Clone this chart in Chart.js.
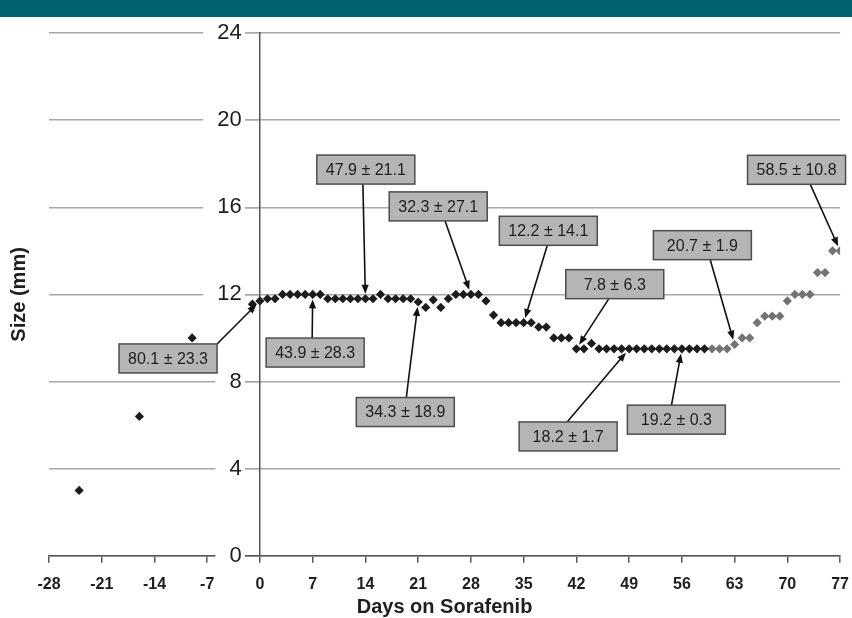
<!DOCTYPE html>
<html>
<head>
<meta charset="utf-8">
<script src="https://cdn.jsdelivr.net/npm/chart.js@4.4.0/dist/chart.umd.min.js"></script>
<style>
  html, body { margin: 0; padding: 0; background: #ffffff; overflow: hidden; }
  #wrap { position: relative; width: 852px; height: 618px; overflow: hidden; }
  #band { position: absolute; left: 0; top: 0; width: 852px; height: 17px; background: #00636f; }
  #c { position: absolute; left: 0; top: 0; }
</style>
</head>
<body>
<div id="wrap">
  <canvas id="c" width="861" height="618"></canvas>
  <div id="band"></div>
</div>
<script>
// Tumour size before sorafenib was started
const preDays = [-24, -16, -9];
const preSize = [3.0, 6.4, 10.0];

// Tumour size while on sorafenib (first period)
const onDays = [-1, 0, 1, 2, 3, 4, 5, 6, 7, 8, 9, 10, 11, 12, 13, 14, 15, 16, 17, 18, 19, 20,
  21, 22, 23, 24, 25, 26, 27, 28, 29, 30, 31, 32, 33, 34, 35, 36, 37, 38, 39, 40,
  41, 42, 43, 44, 45, 46, 47, 48, 49, 50, 51, 52, 53, 54, 55, 56, 57, 58, 59];
const onSize = [11.55, 11.7, 11.8, 11.8, 12.0, 12.0, 12.0, 12.0, 12.0, 12.0,
  11.8, 11.8, 11.8, 11.8, 11.8, 11.8, 11.8, 12.0, 11.8, 11.8, 11.8, 11.8,
  11.65, 11.4, 11.75, 11.4, 11.8, 12.0, 12.0, 12.0, 12.0, 11.7, 11.05,
  10.7, 10.7, 10.7, 10.7, 10.7, 10.5, 10.5, 10.0, 10.0, 10.0, 9.5, 9.5, 9.75,
  9.5, 9.5, 9.5, 9.5, 9.5, 9.5, 9.5, 9.5, 9.5, 9.5, 9.5, 9.5, 9.5, 9.5, 9.5];

// Tumour size during the later period
const lateDays = [60, 61, 62, 63, 64, 65, 66, 67, 68, 69, 70, 71, 72, 73, 74, 75, 76, 77];
const lateSize = [9.5, 9.5, 9.5, 9.7, 10.0, 10.0, 10.7, 11.0, 11.0, 11.0, 11.7, 12.0, 12.0, 12.0,
  13.0, 13.0, 14.0, 14.0];

// Axis ticks
const dayTicks = [-28, -21, -14, -7, 0, 7, 14, 21, 28, 35, 42, 49, 56, 63, 70, 77];
const sizeTicks = [0, 4, 8, 12, 16, 20, 24];

// Weekly callouts: label text and the day each arrow points to
const noteText = ['80.1 \u00b1 23.3', '43.9 \u00b1 28.3', '47.9 \u00b1 21.1', '34.3 \u00b1 18.9',
  '32.3 \u00b1 27.1', '12.2 \u00b1 14.1', '7.8 \u00b1 6.3', '18.2 \u00b1 1.7', '19.2 \u00b1 0.3',
  '20.7 \u00b1 1.9', '58.5 \u00b1 10.8'];
const noteDay = [0, 7, 14, 21, 28, 35, 42, 49, 56, 63, 77];

// Where each callout box sits (centre, in day / mm units) and which point of
// its outline the arrow leaves from (fraction of width, fraction of height)
const notePlace = [
  { day: -12.2, mm: 9.06,  fx: 1.00, fy: 0 },
  { day: 7.32,  mm: 9.33,  fx: 0.47, fy: 0 },
  { day: 14.05, mm: 17.73, fx: 0.47, fy: 1 },
  { day: 19.29, mm: 6.60,  fx: 0.51, fy: 0 },
  { day: 23.66, mm: 16.04, fx: 0.57, fy: 1 },
  { day: 38.27, mm: 14.92, fx: 0.49, fy: 1 },
  { day: 47.09, mm: 12.47, fx: 0.44, fy: 1 },
  { day: 40.90, mm: 5.48,  fx: 0.49, fy: 0 },
  { day: 55.27, mm: 6.25,  fx: 0.45, fy: 0 },
  { day: 58.72, mm: 14.26, fx: 0.58, fy: 1 },
  { day: 71.22, mm: 17.72, fx: 0.64, fy: 1 }
];

const toXY = (xs, ys) => xs.map((d, i) => ({ x: d, y: ys[i] }));

function sizeOnDay(d) {
  let i = onDays.indexOf(d);
  if (i >= 0) return onSize[i];
  i = lateDays.indexOf(d);
  if (i >= 0) return lateSize[i];
  return null;
}

// Callout boxes with arrows, drawn over the points
const calloutPlugin = {
  id: 'callouts',
  afterDatasetsDraw(chart) {
    const ctx = chart.ctx;
    const xs = chart.scales.x, ys = chart.scales.y;
    const W = 98, H = 29;
    ctx.save();
    noteText.forEach((txt, i) => {
      const p = notePlace[i];
      const cx = xs.getPixelForValue(p.day), cy = ys.getPixelForValue(p.mm);
      const bx = cx - W / 2, by = cy - H / 2;
      const sx = bx + p.fx * W, sy = by + p.fy * H;
      const tx0 = xs.getPixelForValue(noteDay[i]), ty0 = ys.getPixelForValue(sizeOnDay(noteDay[i]));
      const dx = tx0 - sx, dy = ty0 - sy;
      const len = Math.hypot(dx, dy);
      const ux = dx / len, uy = dy / len;
      const tx = tx0 - ux * 5, ty = ty0 - uy * 5;
      // shaft
      ctx.strokeStyle = '#111111';
      ctx.lineWidth = 1.6;
      ctx.beginPath();
      ctx.moveTo(sx, sy);
      ctx.lineTo(tx - ux * 6, ty - uy * 6);
      ctx.stroke();
      // head
      ctx.fillStyle = '#111111';
      ctx.beginPath();
      ctx.moveTo(tx, ty);
      ctx.lineTo(tx - ux * 9 - uy * 3.6, ty - uy * 9 + ux * 3.6);
      ctx.lineTo(tx - ux * 9 + uy * 3.6, ty - uy * 9 - ux * 3.6);
      ctx.closePath();
      ctx.fill();
      // box
      ctx.fillStyle = '#b5b5b5';
      ctx.fillRect(bx, by, W, H);
      ctx.strokeStyle = '#4d4d4d';
      ctx.lineWidth = 1.5;
      ctx.strokeRect(bx, by, W, H);
      ctx.fillStyle = '#1e1e1e';
      ctx.font = '16px Arial, "Liberation Sans", sans-serif';
      ctx.textAlign = 'center';
      ctx.textBaseline = 'middle';
      ctx.fillText(txt, cx, cy + 1);
    });
    ctx.restore();
  }
};

// Axis titles: vertical one at the far left, horizontal one under the day labels
const axisTitlePlugin = {
  id: 'axisTitles',
  afterDraw(chart) {
    const ctx = chart.ctx, a = chart.chartArea;
    ctx.save();
    ctx.font = 'bold 20px Arial, "Liberation Sans", sans-serif';
    ctx.fillStyle = '#1e1e1e';
    ctx.textAlign = 'center';
    ctx.textBaseline = 'middle';
    ctx.fillText('Days on Sorafenib', (a.left + a.right) / 2, a.bottom + 52);
    ctx.translate(19, (a.top + a.bottom) / 2);
    ctx.rotate(-Math.PI / 2);
    ctx.fillText('Size (mm)', 0, 0);
    ctx.restore();
  }
};

new Chart(document.getElementById('c'), {
  type: 'scatter',
  data: {
    datasets: [
      { data: toXY(preDays, preSize), backgroundColor: '#1c1c1c', borderColor: '#1c1c1c' },
      { data: toXY(onDays, onSize), backgroundColor: '#1c1c1c', borderColor: '#1c1c1c' },
      { data: toXY(lateDays, lateSize), backgroundColor: '#737373', borderColor: '#737373' }
    ]
  },
  options: {
    responsive: false,
    animation: false,
    events: [],
    layout: { padding: { left: 49, right: 0, top: 33, bottom: 12 } },
    elements: {
      point: { pointStyle: 'rectRot', radius: 4.6, borderWidth: 0, hoverRadius: 4.6 }
    },
    plugins: { legend: { display: false }, tooltip: { enabled: false } },
    scales: {
      x: {
        type: 'linear',
        min: -28, max: 77,
        afterBuildTicks: s => { s.ticks = dayTicks.map(v => ({ value: v })); },
        ticks: {
          autoSkip: false, maxRotation: 0,
          color: '#1e1e1e', padding: 12,
          font: { family: 'Arial, "Liberation Sans", sans-serif', size: 16, weight: 'bold' }
        },
        grid: { drawOnChartArea: false, drawTicks: true, tickLength: 7, color: '#555555', lineWidth: 1.5 },
        border: { display: true, color: '#555555', width: 1.5 }
      },
      y: {
        type: 'linear',
        min: 0, max: 24,
        position: { x: 0 },
        afterBuildTicks: s => { s.ticks = sizeTicks.map(v => ({ value: v })); },
        ticks: {
          color: '#1e1e1e',
          font: { family: 'Arial, "Liberation Sans", sans-serif', size: 22 },
          // trailing spaces keep the numbers clear of the vertical axis line
          callback: v => v + '   ',
          showLabelBackdrop: true, backdropColor: '#ffffff',
          backdropPadding: { left: 14, right: -15, top: 0, bottom: 0 }
        },
        grid: { color: '#a8a8a8', lineWidth: 1.5, drawTicks: true, tickLength: 17 },
        border: { display: true, color: '#555555', width: 1.5 }
      }
    }
  },
  plugins: [calloutPlugin, axisTitlePlugin]
});
</script>
</body>
</html>
